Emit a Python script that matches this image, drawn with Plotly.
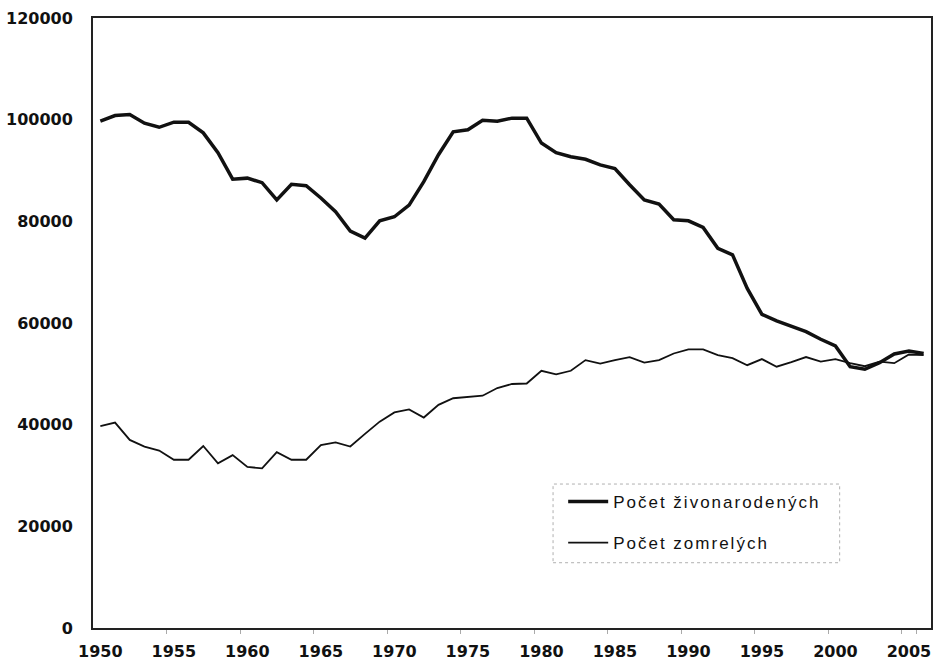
import plotly.graph_objects as go

years = list(range(1950, 2007))

births = [
    99700, 100800, 101000, 99300, 98500, 99500, 99500, 97400, 93500, 88300,
    88500, 87600, 84200, 87300, 87000, 84600, 81900, 78100, 76700, 80100,
    80900, 83200, 87800, 93100, 97600, 98000, 99900, 99700, 100300, 100300,
    95400, 93500, 92700, 92200, 91100, 90400, 87200, 84200, 83400, 80300,
    80100, 78800, 74700, 73400, 66800, 61700, 60400, 59300, 58300, 56800,
    55500, 51400, 50900, 52200, 53900, 54500, 54000,
]

deaths = [
    39700, 40400, 37000, 35700, 34900, 33100, 33100, 35800, 32400, 34000,
    31700, 31400, 34600, 33100, 33100, 36000, 36500, 35700, 38200, 40600,
    42400, 43000, 41400, 43900, 45200, 45400, 45700, 47200, 48000, 48100,
    50600, 49900, 50600, 52700, 52000, 52700, 53300, 52200, 52700, 54000,
    54800, 54800, 53700, 53100, 51700, 52900, 51400, 52300, 53300, 52400,
    52900, 52100, 51500, 52400, 52100, 53800, 53700,
]

series_names = ["Počet živonarodených", "Počet zomrelých"]
x_tick_labels = [1950, 1955, 1960, 1965, 1970, 1975, 1980, 1985, 1990, 1995, 2000, 2005]
y_tick_values = [0, 20000, 40000, 60000, 80000, 100000, 120000]

fig = go.Figure()
fig.add_trace(go.Scatter(
    x=years, y=births, mode="lines", name=series_names[0],
    line=dict(color="#111111", width=3.5), legendgroup="a",
))
fig.add_trace(go.Scatter(
    x=years, y=deaths, mode="lines", name=series_names[1],
    line=dict(color="#111111", width=1.8), legendgroup="b",
))

# dotted legend frame
fig.add_shape(type="rect", xref="paper", yref="paper",
              x0=0.549, x1=0.891, y0=0.107, y1=0.236,
              line=dict(color="#b0b0b0", width=1, dash="dot"),
              fillcolor="rgba(0,0,0,0)", layer="below")

fig.update_layout(
    width=934, height=661,
    margin=dict(l=93, r=3, t=18, b=33, autoexpand=False),
    paper_bgcolor="white", plot_bgcolor="white",
    showlegend=True,
    legend=dict(
        x=0.573, y=0.236, xanchor="left", yanchor="top",
        bgcolor="rgba(0,0,0,0)", borderwidth=0,
        font=dict(family="Liberation Sans, Arial", size=17, color="#111111"),
        tracegroupgap=16, traceorder="grouped",
    ),
    font=dict(family="DejaVu Sans", color="#111111"),
)

fig.update_xaxes(
    range=[1949.5, 2006.5], automargin=False,
    tickmode="array", tickvals=x_tick_labels, ticktext=[str(v) for v in x_tick_labels],
    ticks="", ticklabelstandoff=8,
    tickfont=dict(family="DejaVu Sans", size=16, color="#111111", weight="bold"),
    showgrid=False, zeroline=False,
    showline=True, linecolor="#222222", linewidth=2, mirror=True,
    minor=dict(tickmode="array", tickvals=[v - 0.5 for v in x_tick_labels[1:]] + [2005.5],
               ticks="outside", ticklen=4, tickcolor="#aaaaaa", showgrid=False),
)
fig.update_yaxes(
    range=[0, 120000], automargin=False,
    tickmode="array", tickvals=y_tick_values, ticktext=[str(v) for v in y_tick_values],
    ticks="", ticklabelstandoff=15,
    tickfont=dict(family="DejaVu Sans", size=16, color="#111111", weight="bold"),
    showgrid=False, zeroline=False,
    showline=True, linecolor="#222222", linewidth=2, mirror=True,
)

post = """
document.documentElement.style.margin = '0';
document.documentElement.style.overflow = 'hidden';
document.body.style.margin = '0';
document.body.style.overflow = 'hidden';
var gd = document.getElementsByClassName('plotly-graph-div')[0];
function spaceLegend(){
  document.querySelectorAll('.legendtext').forEach(function(e){ e.style.letterSpacing = '2px'; });
  document.querySelectorAll('.legend .scrollbox').forEach(function(e){ e.removeAttribute('clip-path'); });
  document.querySelectorAll('.legend .legendlines path').forEach(function(e){ e.setAttribute('d', 'M-5,0h40'); });
}
spaceLegend();
gd.on('plotly_afterplot', spaceLegend);
"""

fig.write_html("out.html", post_script=post, config={"displayModeBar": False})
